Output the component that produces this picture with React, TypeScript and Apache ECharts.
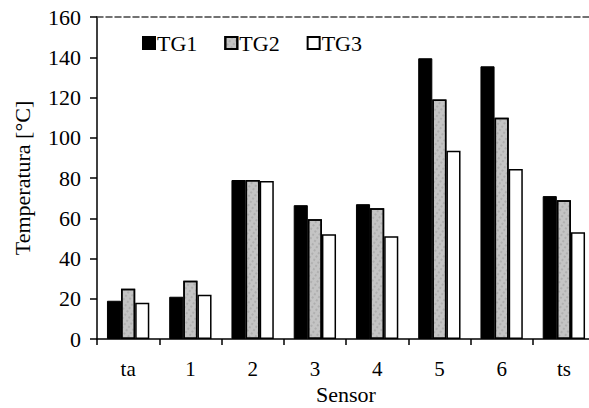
import React, { useEffect, useRef } from "react";
import * as echarts from "echarts";

const categories = ["ta", "1", "2", "3", "4", "5", "6", "ts"];
const tg1 = [19, 21, 79, 66.5, 67, 139.5, 135.5, 71];
const tg2 = [25, 29, 79, 59.5, 65, 119, 110, 69];
const tg3 = [18, 22, 78.5, 52, 51, 93.5, 84.5, 53];
const yTicks = { min: 0, max: 160, interval: 20 };

const FONT = "Liberation Serif";

export default function App() {
  const ref = useRef<HTMLDivElement>(null);
  useEffect(() => {
    if (!ref.current) return;
    const chart = echarts.init(ref.current, null, { renderer: "svg", width: 589, height: 408 });
    const barBase = { type: "bar", barGap: "0%", barCategoryGap: "32%" };
    chart.setOption({
      animation: false,
      backgroundColor: "#fff",
      textStyle: { fontFamily: FONT, color: "#000" },
      grid: { left: 97, right: -6, top: 17, bottom: 69, containLabel: false, outerBoundsMode: "none" },
      legend: {
        left: 142,
        top: 32,
        padding: 0,
        icon: "rect",
        itemWidth: 12,
        itemHeight: 12,
        itemGap: 27,
        textStyle: { fontFamily: FONT, fontSize: 22, color: "#000", padding: [0, 0, 0, -3] },
        data: ["TG1", "TG2", "TG3"],
      },
      xAxis: [
        {
          type: "category",
          data: categories,
          name: "Sensor",
          nameLocation: "middle",
          nameGap: 42,
          nameTextStyle: { fontFamily: FONT, fontSize: 22, color: "#000" },
          axisLine: { lineStyle: { color: "#000", width: 1.5 } },
          axisTick: { show: true, alignWithLabel: false, length: 6, lineStyle: { color: "#000", width: 1.5 } },
          axisLabel: { fontFamily: FONT, fontSize: 21, color: "#000", margin: 19 },
        },
        {
          type: "category",
          data: categories,
          position: "top",
          axisLine: { lineStyle: { color: "#444", width: 1.5, type: [6, 3] } },
          axisTick: { show: false },
          axisLabel: { show: false },
        },
      ],
      yAxis: {
        type: "value",
        min: yTicks.min,
        max: yTicks.max,
        interval: yTicks.interval,
        name: "Temperatura [°C]",
        nameLocation: "middle",
        nameGap: 64,
        nameTextStyle: { fontFamily: FONT, fontSize: 22, color: "#000" },
        axisLine: { show: true, lineStyle: { color: "#000", width: 1.5 } },
        axisTick: { show: true, length: 7, lineStyle: { color: "#000", width: 1.5 } },
        axisLabel: { fontFamily: FONT, fontSize: 22, color: "#000", margin: 16 },
        splitLine: { show: false },
      },
      series: [
        {
          ...barBase,
          name: "TG1",
          data: tg1,
          itemStyle: { color: "#000", borderColor: "#000", borderWidth: 1 },
        },
        {
          ...barBase,
          name: "TG2",
          data: tg2,
          itemStyle: {
            color: "#c4c4c4",
            borderColor: "#000",
            borderWidth: 1.5,
            decal: {
              symbol: "rect",
              symbolSize: 0.6,
              color: "rgba(40,40,40,0.45)",
              dashArrayX: [2, 3],
              dashArrayY: [2, 2],
              rotation: 0.6,
            },
          },
        },
        {
          ...barBase,
          name: "TG3",
          data: tg3,
          itemStyle: { color: "#fff", borderColor: "#000", borderWidth: 1.5 },
        },
      ],
    });
    return () => chart.dispose();
  }, []);
  return <div ref={ref} style={{ width: 589, height: 408, position: "absolute", left: 0, top: 0 }} />;
}
